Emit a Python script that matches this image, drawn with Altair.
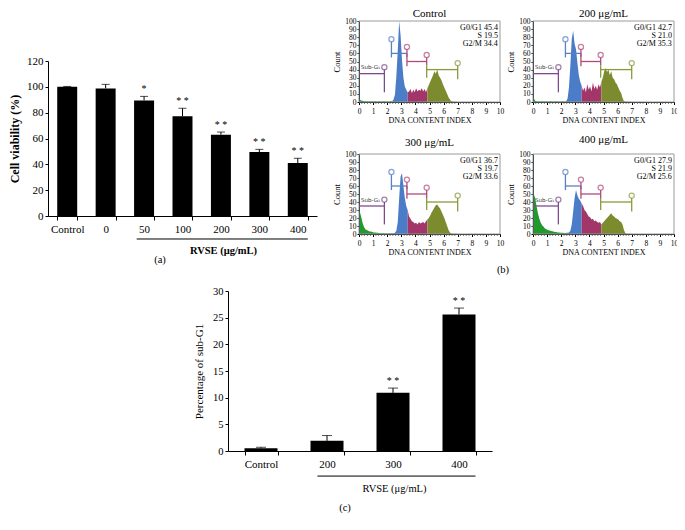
import altair as alt
import pandas as pd

FONT = "Liberation Serif"
W, H = 669, 514  # drawing area (page minus 8px margin)

# ---------------- panel (a): cell viability ----------------
a_cats = ["Control", "0", "50", "100", "200", "300", "400"]
a_vals = [100.0, 98.8, 89.5, 77.2, 63.0, 49.5, 41.0]
a_err = [0.3, 3.1, 3.1, 6.2, 2.0, 2.1, 3.7]
a_sig = ["", "", "*", "* *", "* *", "* *", "* *"]
a_bracket = ["50", "400"]

# ---------------- panel (c): sub-G1 percentage ----------------
c_cats = ["Control", "200", "300", "400"]
c_vals = [0.5, 1.9, 10.9, 25.6]
c_err = [0.2, 1.0, 0.9, 1.2]
c_sig = ["", "", "* *", "* *"]
c_bracket = ["200", "400"]

# ---------------- panel (b): DNA content histograms (bins of 0.1, 0..7) ----------------
ctrl_counts = [3, 2, 1.5, 1, 1, 1, 0.5, 1, 0.5, 1,
               0.5, 1, 0.5, 0.5, 1, 0.5, 0.5, 1, 0.5, 0.5,
               0.5, 0.5, 1, 1, 3, 9, 32, 64, 100, 82,
               52, 30, 19, 15, 12, 13, 16, 11, 15, 12,
               17, 13, 15, 14, 17, 13, 16, 12, 17, 21,
               25, 29, 33, 38, 35, 40, 33, 30, 27, 22,
               18, 14, 10, 6, 3, 1, 0.5, 0.3, 0.3, 0.2]
c200_counts = [5, 1.5, 1, 0.5, 1, 0.5, 1, 0.5, 0.5, 1,
               0.5, 0.5, 1, 0.5, 0.5, 0.5, 1, 0.5, 0.5, 0.5,
               0.5, 1, 0.5, 1, 4, 18, 45, 78, 88, 72,
               65, 48, 33, 25, 20, 14, 18, 12, 22, 15,
               19, 13, 24, 16, 20, 15, 22, 18, 25, 30,
               38, 42, 37, 40, 33, 38, 30, 28, 24, 22,
               18, 14, 11, 5, 1, 0.5, 0.3, 0.3, 0.2, 0.2]
c300_counts = [28, 22, 14, 9, 6, 5, 4, 3, 3, 2.5,
               2, 2, 1.5, 1.5, 1, 1, 1, 1, 0.5, 1,
               0.5, 1, 0.5, 1, 1, 1.5, 4, 15, 45, 72,
               76, 60, 45, 35, 30, 22, 19, 16, 15, 13,
               14, 12, 15, 13, 14, 15, 13, 16, 18, 20,
               23, 27, 30, 33, 36, 37, 34, 32, 28, 24,
               20, 15, 10, 5, 2, 0.5, 0.3, 0.3, 0.2, 0.2]
c400_counts = [50, 45, 35, 26, 19, 14, 11, 9, 7, 6,
               5, 4.5, 4, 3.5, 3, 2.5, 2.5, 2, 2, 1.5,
               1.5, 1.5, 1, 1.5, 1.5, 2, 4, 12, 28, 45,
               55, 48, 44, 42, 38, 35, 30, 28, 25, 22,
               21, 18, 19, 16, 17, 15, 14, 15, 12, 14,
               16, 18, 20, 22, 24, 26, 23, 22, 20, 19,
               18, 16, 15, 12, 5, 1, 0.3, 0.3, 0.2, 0.2]

hist_titles = ["Control", "200 \u03bcg/mL", "300 \u03bcg/mL", "400 \u03bcg/mL"]
hist_stats = [["G0/G1 45.4", "S 19.5", "G2/M 34.4"],
              ["G0/G1 42.7", "S 21.0", "G2/M 35.3"],
              ["G0/G1 36.7", "S 19.7", "G2/M 33.6"],
              ["G0/G1 27.9", "S 21.9", "G2/M 25.6"]]
stats_levels = [91, 81, 71]

phase_names = ["Sub-G1", "G0/G1", "S", "G2/M"]
phase_edges = [2.3, 3.4, 4.8]
phase_colors = ["#23992d", "#4a7cc8", "#a23668", "#7b8b2e"]

gate_keys = ["sub", "g1", "s", "g2"]
gate_cols = ["#7d4b8c", "#5a80c4", "#b04a7a", "#8a9a3a"]
gate_h = [(0.0, 1.8, 35, "sub"), (2.3, 3.4, 60, "g1"), (3.4, 4.8, 50, "s"), (4.8, 7.0, 40, "g2")]
gate_v = [(1.8, 12, 40, "sub"), (2.3, 55, 74, "g1"), (3.4, 56, 60, "g1"), (3.4, 44, 65, "s"),
          (4.8, 45, 55, "s"), (4.8, 30, 45, "g2"), (7.0, 28, 45, "g2")]
gate_pts = [(1.8, 43, "sub"), (2.3, 77.5, "g1"), (3.4, 68, "s"), (4.8, 58, "s"), (7.0, 48, "g2")]
subg1_label = (0.15, 39, "Sub-G\u2081")

x_major = list(range(0, 11))
x_minor = [round(i * 0.2, 1) for i in range(51) if i % 5 != 0]
y_ticks_hist = list(range(0, 101, 10))

# panel frames in drawing-area pixels: (x_start, x_end), (y_bottom, y_top)
hist_frames = [((351, 492), (94, 13)), ((525, 666), (94, 13)),
               ((351, 492), (226, 146)), ((525, 666), (226, 146))]
hist_title_levels = [108.5, 108.5, 114, 117]
a_frame = ((40, 309), (208, 53))
c_frame = ((220, 484), (443, 283))
captions = [("(a)", 152, 252), ("(b)", 495, 262), ("(c)", 337, 500)]


def hist_panel(counts, title_text, stats, frame, title_level):
    (x0, x1), (yb, yt) = frame
    rows = []
    for i, c in enumerate(counts):
        x = round(0.05 + 0.1 * i, 2)
        p = sum(1 for e in phase_edges if x >= e)
        rows.append((x, c, p))
    extra = []
    for p in range(len(phase_edges)):
        nxt = [r for r in rows if r[2] == p + 1]
        if nxt:
            extra.append((nxt[0][0], nxt[0][1], p))
    rows = rows + extra
    df = pd.DataFrame(rows, columns=["x", "count", "p"])
    df["phase"] = [phase_names[p] for p in df["p"]]

    xs = alt.Scale(domain=[0, 10], range=[x0, x1], nice=False)
    ys = alt.Scale(domain=[0, 100], range=[yb, yt], nice=False)
    area = alt.Chart(df).mark_area(interpolate="linear").encode(
        x=alt.X("x:Q", scale=xs, axis=alt.Axis(
            orient="bottom", offset=yb - H,
            values=x_major, format="d",
            title="DNA CONTENT INDEX", titleFontSize=8, titleFontWeight="normal",
            labelFontSize=7.5, tickSize=2.5, labelPadding=2.5, titlePadding=2,
            labelFlush=False, labelOverlap=False)),
        y=alt.Y("count:Q", stack=None, scale=ys, axis=alt.Axis(
            orient="left", offset=-x0,
            values=y_ticks_hist, title="Count", titleFontSize=8.5, titleFontWeight="normal",
            labelFontSize=7.5, tickSize=2, labelPadding=1, titlePadding=3,
            labelFlush=False, labelOverlap=False)),
        fill=alt.Fill("phase:N", scale=alt.Scale(domain=phase_names, range=phase_colors), legend=None),
    )
    mdf = pd.DataFrame({"mx": x_minor})
    minor = alt.Chart(mdf).mark_tick(orient="vertical", size=2, thickness=0.7, color="black",
                                     yOffset=1).encode(
        x=alt.X("mx:Q", scale=xs), y=alt.datum(0, scale=ys))
    bdf = pd.DataFrame({"bx": [0], "bx2": [10], "by": [0], "by2": [100]})
    box = alt.Chart(bdf).mark_rect(fillOpacity=0, stroke="#9a9a9a", strokeWidth=1).encode(
        x=alt.X("bx:Q", scale=xs), x2="bx2:Q", y=alt.Y("by:Q", scale=ys), y2="by2:Q")
    gl = [(a, b, y, y, g) for (a, b, y, g) in gate_h] + [(x, x, y1, y2, g) for (x, y1, y2, g) in gate_v]
    gdf = pd.DataFrame(gl, columns=["gx", "gx2", "gy", "gy2", "gate"])
    stroke = alt.Stroke("gate:N", scale=alt.Scale(domain=gate_keys, range=gate_cols), legend=None)
    rules = alt.Chart(gdf).mark_rule(strokeWidth=1.3).encode(
        x=alt.X("gx:Q", scale=xs), x2="gx2:Q", y=alt.Y("gy:Q", scale=ys), y2="gy2:Q", stroke=stroke)
    pdf = pd.DataFrame(gate_pts, columns=["gx", "gy", "gate"])
    pts = alt.Chart(pdf).mark_point(shape="circle", filled=False, size=26, strokeWidth=1.3).encode(
        x=alt.X("gx:Q", scale=xs), y=alt.Y("gy:Q", scale=ys), stroke=stroke)
    ldf = pd.DataFrame([subg1_label], columns=["lx", "ly", "txt"])
    lab = alt.Chart(ldf).mark_text(align="left", baseline="bottom", font="DejaVu Sans",
                                   fontSize=5.5, color="#333333").encode(
        x=alt.X("lx:Q", scale=xs), y=alt.Y("ly:Q", scale=ys), text="txt:N")
    sdf = pd.DataFrame({"sx": [9.85] * 3, "sy": stats_levels, "txt": stats})
    st = alt.Chart(sdf).mark_text(align="right", baseline="middle", fontSize=8, color="black").encode(
        x=alt.X("sx:Q", scale=xs), y=alt.Y("sy:Q", scale=ys), text="txt:N")
    tdf = pd.DataFrame({"tx": [5], "ty": [title_level], "txt": [title_text]})
    tt = alt.Chart(tdf).mark_text(align="center", baseline="middle", fontSize=11, color="black").encode(
        x=alt.X("tx:Q", scale=xs), y=alt.Y("ty:Q", scale=ys), text="txt:N")
    return alt.layer(area, minor, box, rules, pts, lab, st, tt)


def bar_panel(cats, vals, errs, sigs, bracket, frame, ytitle, ytitle_bold, yvals, ydomain,
              level, band_start, xtitle, xtitle_bold, tx, ty, pin, pout, cap,
              ylab_size, ytitle_size, ytitle_pad):
    (x0, x1), (yb, yt) = frame
    df = pd.DataFrame({"cat": cats, "val": vals,
                       "top": [v + e for v, e in zip(vals, errs)], "sig": sigs})
    xs = alt.Scale(domain=cats, range=[x0, x1], paddingInner=pin, paddingOuter=pout)
    ys = alt.Scale(domain=ydomain, range=[yb, yt], nice=False)
    bars = alt.Chart(df).mark_bar(color="black").encode(
        x=alt.X("cat:N", scale=xs, axis=alt.Axis(
            orient="bottom", offset=yb - H,
            title=xtitle, titleFontWeight="bold" if xtitle_bold else "normal", titleFontSize=10.5,
            titleX=tx, titleY=ty, titleAlign="center", titleBaseline="middle",
            labelAngle=0, labelFontSize=11, tickBand="extent", tickSize=4, labelPadding=3,
            labelOverlap=False)),
        y=alt.Y("val:Q", scale=ys, axis=alt.Axis(
            orient="left", offset=-x0,
            values=yvals, title=ytitle, titleFontWeight="bold" if ytitle_bold else "normal",
            titleFontSize=ytitle_size, labelFontSize=ylab_size, tickSize=3, labelPadding=2,
            titlePadding=ytitle_pad, labelOverlap=False, labelFlush=False)),
    )
    err = alt.Chart(df).mark_rule(color="black", strokeWidth=1).encode(
        x=alt.X("cat:N", scale=xs), y=alt.Y("val:Q", scale=ys), y2="top:Q")
    caps = alt.Chart(df).mark_tick(color="black", thickness=1, size=cap).encode(
        x=alt.X("cat:N", scale=xs), y=alt.Y("top:Q", scale=ys))
    stars = alt.Chart(df).mark_text(baseline="bottom", dy=-2, fontSize=10, color="black").encode(
        x=alt.X("cat:N", scale=xs), y=alt.Y("top:Q", scale=ys), text="sig:N")
    bdf = pd.DataFrame({"start": [bracket[0]], "end": [bracket[1]], "level": [level]})
    br = alt.Chart(bdf).mark_rule(color="black", strokeWidth=1).encode(
        x=alt.X("start:N", scale=xs, bandPosition=band_start), x2=alt.X2("end:N", bandPosition=1.0),
        y=alt.Y("level:Q", scale=ys))
    return alt.layer(bars, err, caps, stars, br)


a_chart = bar_panel(a_cats, a_vals, a_err, a_sig, a_bracket, a_frame, "Cell viability (%)", True,
                    list(range(0, 121, 20)), [0, 120], -17.8, 0.13,
                    "RVSE (\u03bcg/mL)", True, 215, 34, 0.48, 0.24, 8, 11, 12, 5)

c_chart = bar_panel(c_cats, c_vals, c_err, c_sig, c_bracket, c_frame, "Percentage of sub-G1", False,
                    list(range(0, 31, 5)), [0, 30], -4.7, 0.21,
                    "RVSE (\u03bcg/mL)", False, 386, 37, 0.5, 0.25, 10, 10.5, 11, 8)

counts_all = [ctrl_counts, c200_counts, c300_counts, c400_counts]
hp = [hist_panel(counts_all[i], hist_titles[i], hist_stats[i], hist_frames[i], hist_title_levels[i])
      for i in range(4)]

cap_layers = [
    alt.Chart(pd.DataFrame({"t": [t]})).mark_text(fontSize=10.5, color="black", baseline="middle").encode(
        x=alt.value(cx), y=alt.value(cy), text="t:N")
    for (t, cx, cy) in captions
]

chart = alt.layer(a_chart, *hp, c_chart, *cap_layers).resolve_scale(
    x="independent", y="independent"
).properties(
    width=W, height=H,
    autosize=alt.AutoSizeParams(type="none"),
    padding=0,
    background="white",
).configure(font=FONT).configure_view(stroke=None).configure_axis(
    grid=False, domainColor="black", tickColor="black", labelColor="black",
    titleColor="black", labelFont=FONT, titleFont=FONT,
).configure_text(font=FONT)

chart.save("out.html", embed_options={"renderer": "svg", "actions": False})
